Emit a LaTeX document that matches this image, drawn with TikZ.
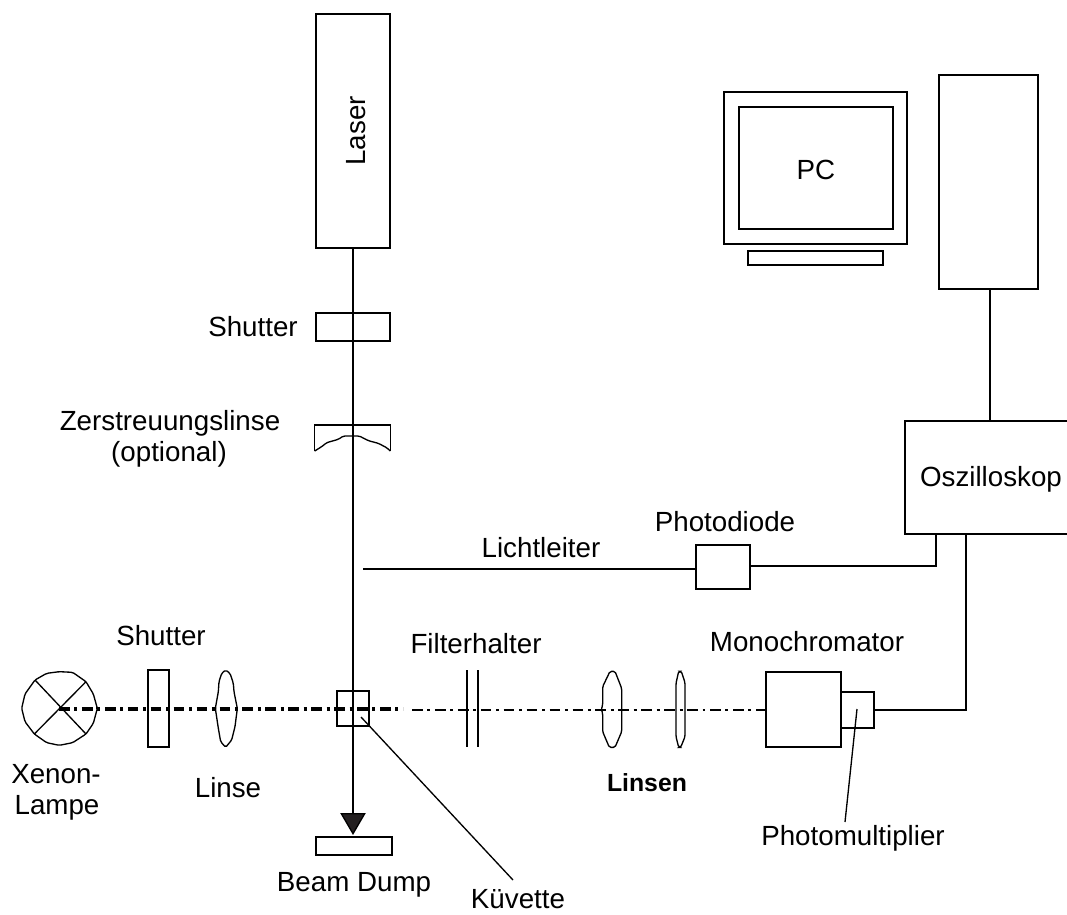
\documentclass[tikz,border=0pt]{standalone}
\usepackage{fontspec}
\setmainfont{Liberation Sans}
\usetikzlibrary{arrows.meta}
\definecolor{ink}{HTML}{231F20}
\tikzset{
  x=0.75pt,y=-0.75pt,
  color=ink,
  every path/.style={line width=1pt},
  unit/.style={draw,rectangle,inner sep=0pt,outer sep=0pt},
  label/.style={anchor=base,inner sep=0pt,outer sep=0pt,text=black,font=\fontsize{20.8}{25}\selectfont},
  beamthick/.style={line width=3pt,dash pattern=on 8pt off 3.5pt on 2.2pt off 3.5pt},
  beamthin/.style={line width=1.05pt,dash pattern=on 8pt off 3.5pt on 2.2pt off 3.5pt},
  trace/.style={rounded corners=1.2pt},
  zoomed/.style={x=0.25pt,y=-0.25pt}
}
\newcommand{\unitbox}[5]{%
  \node[unit,minimum width={(#4-#2)*0.75pt},minimum height={(#5-#3)*0.75pt}] (#1) at ({(#2+#4)/2},{(#3+#5)/2}) {};}
\begin{document}
\begin{tikzpicture}
\fill[white] (0,0) rectangle (1067,914);
\useasboundingbox (0,0) rectangle (1067,914);

% boxes
\unitbox{laser}{316}{14}{390}{248}
\unitbox{shuttertop}{316}{313}{390}{341}
\unitbox{dump}{316}{837}{392}{855}
\unitbox{shutterleft}{148}{670}{169}{747}
\unitbox{cuvette}{337}{691}{369}{726}
\unitbox{mono}{766}{672}{841}{747}
\unitbox{pm}{841}{692}{874}{728}
\unitbox{pd}{696}{545}{750}{589}
\unitbox{tower}{939}{75}{1038}{289}
\unitbox{monitor}{724}{92}{907}{244}
\unitbox{screen}{739}{107}{893}{229}
\unitbox{keyboard}{748}{251}{883}{265}

% oscilloscope, open at the page edge
\node[inner sep=0pt,outer sep=0pt,minimum width=129pt,minimum height=84.75pt] (osc) at (991,477.5) {};
\draw (osc.north east) -- (osc.north west) -- (osc.south west) -- (osc.south east);

% named free ends
\coordinate (lampc) at (59,709);
\coordinate (thickend) at (403,709);
\coordinate (thinstart) at (412,710);
\coordinate (llstart) at (363,569);
\coordinate (oscA) at (936,534);
\coordinate (oscB) at (966,534);
\coordinate (cuvtip) at (361,717);
\coordinate (cuvlabel) at (513,880);
\coordinate (pmtip) at (857,709);
\coordinate (pmlabel) at (845,822);

% lamp
\begin{scope}[shift={(0,620)},zoomed]
\draw[trace] (178,155) -- (218,157) -- (258,185) -- (280,222) -- (292,265) -- (280,310) -- (258,342) -- (218,368) -- (178,376) -- (140,368) -- (103,342) -- (75,305) -- (65,265) -- (75,222) -- (105,180) -- (140,160) -- cycle;
\draw (105,180) -- (258,342);
\draw (258,185) -- (103,342);
% first lens
\draw[trace] (677,150) -- (690,160) -- (700,190) -- (702,215) -- (712,265) -- (705,320) -- (695,360) -- (677,382) -- (662,365) -- (655,325) -- (646,265) -- (655,215) -- (657,185) -- (665,160) -- cycle;
\end{scope}

% lenses in the detection arm
\begin{scope}[shift={(440,620)},zoomed]
\draw[trace] (510,154) -- (525,154) -- (545,205) -- (545,335) -- (525,382) -- (508,382) -- (488,335) -- (488,280) -- (484,268) -- (488,255) -- (488,200) -- cycle;
\draw[trace] (716,154) -- (724,154) -- (735,188) -- (735,350) -- (722,382) -- (716,382) -- (708,350) -- (708,190) -- cycle;
\end{scope}

% diverging lens
\begin{scope}[shift={(280,300)},zoomed]
\draw (104,453) -- (104,375) -- (331,375) -- (331,453);
\draw[trace] (104,453) -- (125,440) -- (140,428) -- (175,418) -- (190,408) -- (238,408) -- (265,422) -- (295,430) -- (320,443) -- (331,453);
\end{scope}

% filter holder
\coordinate (filtA) at (467,670);
\coordinate (filtB) at (478,670);
\draw (filtA) -- ++(0,77);
\draw (filtB) -- ++(0,77);

% beams
\draw[beamthick] (lampc) -- (thickend);
\draw[beamthin] (thinstart) -- (mono.west |- thinstart);
\draw[-{Triangle[length=16.5pt,width=19pt,fill=ink]}] (laser.south) -- ([yshift=1.5pt]laser.south |- dump.north);

% connectors
\draw (llstart) -- (pd.west |- llstart);
\draw (pd.east |- 0,566) -| (oscA);
\draw (pm.east) -| (oscB);
\draw ([xshift=1pt]tower.south) -- ([xshift=1pt]tower.south |- osc.north);
\draw (cuvtip) -- (cuvlabel);
\draw (pmtip) -- (pmlabel);

% labels
\node[label,anchor=center,rotate=90] (tlaser) at (356,131) {Laser};
\node[label] (tpc) at (816,179) {PC};
\node[label] (tshuttertop) at (253,336) {Shutter};
\node[label] (tzer) at (170,430) {Zerstreuungslinse};
\node[label] (topt) at (169,461) {(optional)};
\node[label] (tll) at (541,557) {Lichtleiter};
\node[label] (tpd) at (725,531) {Photodiode};
\node[label] (tosc) at (991,486) {Oszilloskop};
\node[label] (tshutterleft) at (161,645) {Shutter};
\node[label] (txe) at (56,783) {Xenon-};
\node[label] (tla) at (57,814) {Lampe};
\node[label] (tlin) at (228,797) {Linse};
\node[label] (tfil) at (476,653) {Filterhalter};
\node[label] (tmono) at (807,651) {Monochromator};
\node[label,font=\fontsize{18.6}{22}\bfseries\selectfont] (tlinsen) at (647,791) {Linsen};
\node[label] (tpm) at (853,845) {Photomultiplier};
\node[label] (tdump) at (354,891) {Beam Dump};
\node[label] (tkuv) at (518,908) {Küvette};
\end{tikzpicture}
\end{document}
